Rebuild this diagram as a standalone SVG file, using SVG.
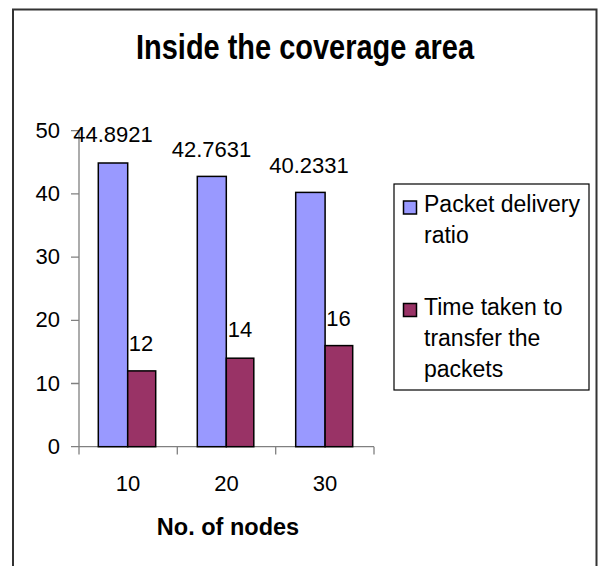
<svg xmlns="http://www.w3.org/2000/svg" width="599" height="566" viewBox="0 0 599 566">
<style>
text{font-family:"Liberation Sans",Arial,sans-serif;fill:#000}
.lbl{font-size:22px}
.ax{font-size:22px;text-anchor:end}
.cat{font-size:22px;text-anchor:middle}
.dl{font-size:22px;text-anchor:middle}
.leg{font-size:23px}
.s1{fill:#9999FF;stroke:#000;stroke-width:1.5}
.s2{fill:#993366;stroke:#000;stroke-width:1.5}
.axis{stroke:#808080;stroke-width:1.3;fill:none}
</style>
<rect width="599" height="566" fill="#fff"/>
<path id="frame" d="M13,566 V9.5 H596.5 V566" fill="none" stroke="#333" stroke-width="2"/>
<text id="title" x="305" y="59" text-anchor="middle" font-weight="bold" font-size="35" textLength="338" lengthAdjust="spacingAndGlyphs">Inside the coverage area</text>
<g id="axes" class="axis">
<path d="M79,130.7 V446.7 M71,446.7 H374 M71,130.7 H79 M71,193.9 H79 M71,257.1 H79 M71,320.3 H79 M71,383.5 H79 M79,446.7 V454.5 M177.3,446.7 V454.5 M275.7,446.7 V454.5 M374,446.7 V454.5"/>
</g>
<g id="ylabels">
<text class="ax" x="60" y="138">50</text>
<text class="ax" x="60" y="201">40</text>
<text class="ax" x="60" y="264">30</text>
<text class="ax" x="60" y="327.3">20</text>
<text class="ax" x="60" y="390.5">10</text>
<text class="ax" x="60" y="453.7">0</text>
</g>
<g id="xlabels">
<text class="cat" x="128" y="490.7">10</text>
<text class="cat" x="226.5" y="490.7">20</text>
<text class="cat" x="325" y="490.7">30</text>
</g>
<text id="xtitle" x="228" y="535" text-anchor="middle" font-weight="bold" font-size="23.5">No. of nodes</text>
<g id="series1">
<rect class="s1" x="98.3" y="163" width="29.4" height="283.7"/>
<rect class="s1" x="197.3" y="176.4" width="29" height="270.3"/>
<rect class="s1" x="295.7" y="192.4" width="29.4" height="254.3"/>
</g>
<g id="series2">
<rect class="s2" x="127.7" y="370.9" width="28" height="75.8"/>
<rect class="s2" x="226.3" y="358.2" width="27.5" height="88.5"/>
<rect class="s2" x="325.1" y="345.6" width="27.6" height="101.1"/>
</g>
<g id="datalabels">
<text class="dl" x="113" y="142">44.8921</text>
<text class="dl" x="211.5" y="156.5">42.7631</text>
<text class="dl" x="309" y="172.5">40.2331</text>
<text class="dl" x="141" y="350.7">12</text>
<text class="dl" x="240" y="337">14</text>
<text class="dl" x="338.5" y="325.7">16</text>
</g>
<g id="legend">
<rect x="394" y="184" width="195" height="206" fill="#fff" stroke="#000" stroke-width="1.2"/>
<rect class="s1" x="403.5" y="201" width="13" height="13"/>
<rect class="s2" x="403.5" y="303.5" width="13" height="13"/>
<text class="leg" x="424" y="212">Packet delivery</text>
<text class="leg" x="424" y="243">ratio</text>
<text class="leg" x="424" y="315">Time taken to</text>
<text class="leg" x="424" y="346">transfer the</text>
<text class="leg" x="424" y="377">packets</text>
</g>
</svg>
